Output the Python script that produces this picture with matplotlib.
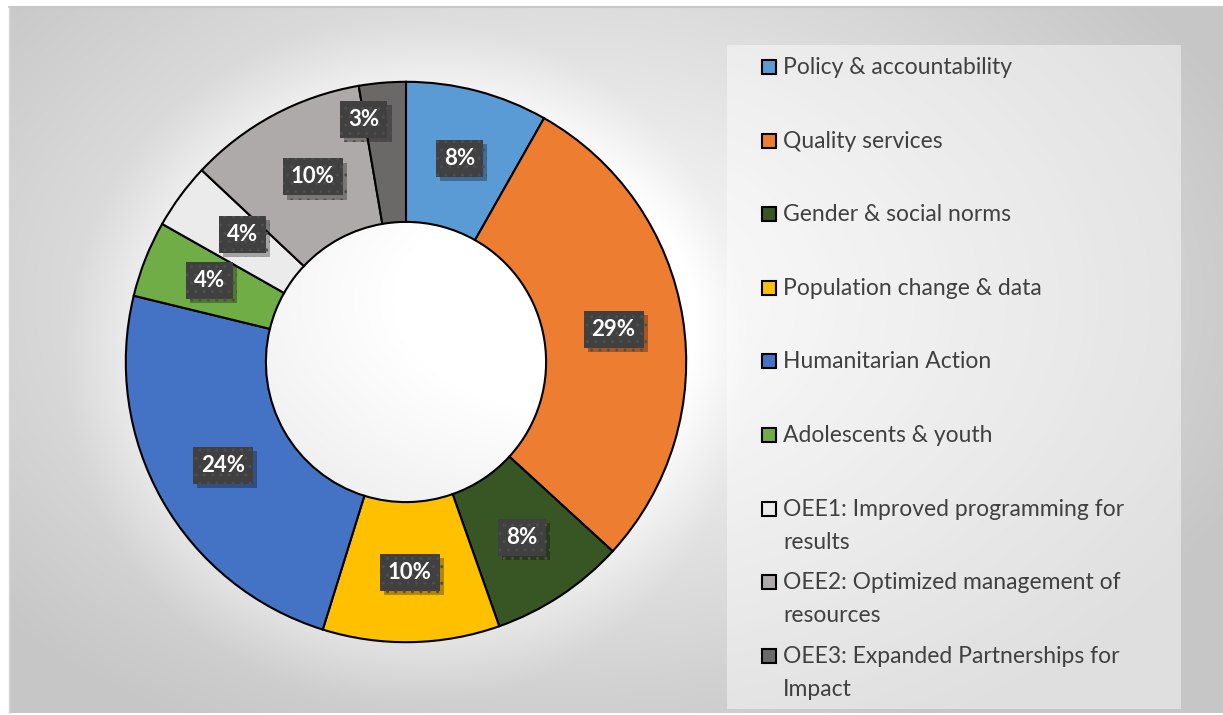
import matplotlib
matplotlib.use("Agg")
import matplotlib.pyplot as plt
import matplotlib.patheffects as pe
from matplotlib.patches import Rectangle
import numpy as np

W, H = 1223, 715

categories = ["Policy & accountability", "Quality services", "Gender & social norms",
              "Population change & data", "Humanitarian Action", "Adolescents & youth",
              "OEE1: Improved programming for\nresults", "OEE2: Optimized management of\nresources",
              "OEE3: Expanded Partnerships for\nImpact"]
shares = [8.2, 28.6, 7.8, 10.2, 24.0, 4.4, 3.8, 10.3, 2.7]
colors = ["#5b9bd5", "#ed7d31", "#375623", "#ffc000", "#4472c4", "#70ad47",
          "#ebebeb", "#aeaaaa", "#6b6868"]

plt.rcParams['font.family'] = ['Lato', 'DejaVu Sans']
plt.rcParams['hatch.linewidth'] = 1.0

fig = plt.figure(figsize=(W / 100, H / 100), dpi=100)
fig.patch.set_facecolor("white")

def fx(x):
    return x / W

def fy(y):
    return 1 - y / H

# background panel with radial gradient
x0, x1, y0, y1 = 9, 1223, 7, 713
bg = fig.add_axes([fx(x0), fy(y1), fx(x1 - x0), (y1 - y0) / H])
bg.set_axis_off()
xx, yy = np.meshgrid(np.arange(x0, x1), np.arange(y0, y1))
d = np.sqrt(((xx - 560) / 640.0) ** 2 + ((yy - 300) / 420.0) ** 2)
shade = 1.0 - 0.22 * np.clip(d / 1.15, 0, 1)
# soft light glow around the donut
g = np.sqrt((xx - 406) ** 2 + (yy - 362) ** 2)
glow = np.clip(1 - (g - 283) / 60.0, 0, 1) * 0.05
shade = np.clip(shade + glow, 0, 1)
img = np.dstack([shade, shade, shade])
bg.imshow(img, extent=[0, 1, 0, 1], aspect="auto", interpolation="bilinear")
bg.set_xlim(0, 1)
bg.set_ylim(0, 1)
fig.add_artist(plt.Line2D([fx(x0), 1], [fy(y0), fy(y0)], color="#c8c8c8", lw=1.5))
fig.add_artist(plt.Line2D([fx(x0), fx(x0)], [fy(y0), fy(y1)], color="#d8d8d8", lw=1))

# legend panel
fig.add_artist(Rectangle((fx(727), fy(709)), fx(1181 - 727), (709 - 45) / H,
                         transform=fig.transFigure, facecolor="white", alpha=0.45,
                         edgecolor="none"))

# donut
cx, cy, R = 406, 362, 283
ax = fig.add_axes([fx(cx - R), fy(cy + R), fx(2 * R), 2 * R / H])
ax.set_axis_off()
wedges, _ = ax.pie(shares, colors=colors, startangle=90, counterclock=False,
                   radius=1.0, wedgeprops=dict(width=0.5, edgecolor="black", linewidth=1.5))
ax.set_xlim(-1.01, 1.01)
ax.set_ylim(-1.01, 1.01)
ax.set_aspect("equal")

# label nudges (radius, angle offset in degrees) for crowded slices
nudge = {8: (0.88, 5.0), 5: (0.76, -1.0), 6: (0.74, -1.5), 7: (0.74, -1.5)}
for i, w in enumerate(wedges):
    r, da = nudge.get(i, (0.75, 0.0))
    ang = np.deg2rad((w.theta1 + w.theta2) / 2 + da)
    tx, ty = r * np.cos(ang), r * np.sin(ang)
    lab = f"{round(shares[i]):d}%"
    t = ax.text(tx, ty, lab, ha="center", va="center", fontsize=16, fontweight="bold",
                color="white", zorder=5,
                bbox=dict(boxstyle="square,pad=0.36", fc="#404040", ec="#4e4e4e", lw=0,
                          hatch=".."))
    t.get_bbox_patch().set_path_effects([
        pe.SimplePatchShadow(offset=(3, -3), shadow_rgbFace="black", alpha=0.3),
        pe.Normal()])

# legend entries
for i, (name, c) in enumerate(zip(categories, colors)):
    y = 67 + 73.6 * i
    fig.add_artist(Rectangle((fx(762), fy(y + 7)), fx(14), 14 / H,
                             transform=fig.transFigure, facecolor=c,
                             edgecolor="black", linewidth=1.5))
    fig.text(fx(783), fy(y - 10), name, ha="left", va="top", fontsize=16.5,
             color="#404040", linespacing=1.72)

fig.savefig("out.png", dpi=100, facecolor="white")
